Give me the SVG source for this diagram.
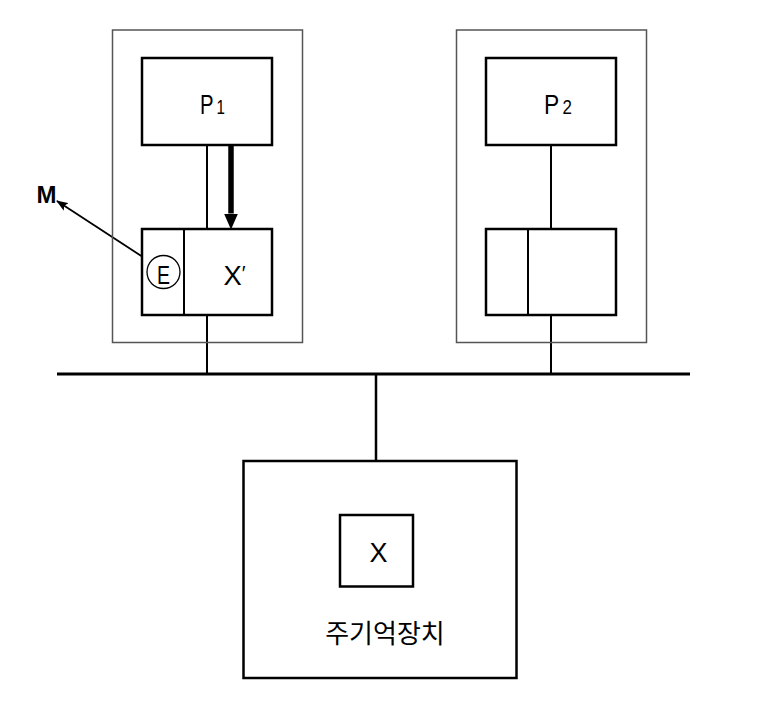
<svg xmlns="http://www.w3.org/2000/svg" width="764" height="714" viewBox="0 0 764 714">
<style>
.outer{fill:none;stroke:#555;stroke-width:1.5}
.box{fill:#fff;stroke:#000;stroke-width:2.5}
.ln{stroke:#000;stroke-width:2;fill:none}
.t{font-family:"Liberation Sans",Arial,sans-serif;fill:#000}
.k{font-family:"Noto Sans CJK KR","Liberation Sans",sans-serif;fill:#000}
</style>
<defs>
<marker id="ah" markerWidth="12" markerHeight="10" refX="11" refY="5" orient="auto" markerUnits="userSpaceOnUse" viewBox="0 0 12 10">
<path d="M0,0.5 L12,5 L0,9.5 L2.5,5 Z" fill="#000"/>
</marker>
<marker id="ahb" markerWidth="16" markerHeight="14" refX="0" refY="7" orient="auto" markerUnits="userSpaceOnUse" viewBox="0 0 16 14">
<path d="M0,0 L16,7 L0,14 Z" fill="#000"/>
</marker>
</defs>
<rect width="764" height="714" fill="#fff"/>
<g id="connectors">
<line class="ln" x1="57" y1="374" x2="690" y2="374" style="stroke-width:3"/>
<line class="ln" x1="207" y1="145" x2="207" y2="229"/>
<line class="ln" x1="207" y1="315" x2="207" y2="374"/>
<line class="ln" x1="551" y1="145" x2="551" y2="229"/>
<line class="ln" x1="551" y1="315" x2="551" y2="374"/>
<line class="ln" x1="376" y1="374" x2="376" y2="461" style="stroke-width:2.5"/>
<line class="ln" x1="231" y1="145" x2="231" y2="213.5" style="stroke-width:5.5" marker-end="url(#ahb)"/>
<line class="ln" x1="149" y1="261" x2="57" y2="201" style="stroke-width:1.8" marker-end="url(#ah)"/>
</g>
<g id="node-p1-unit">
<rect class="outer" x="112.5" y="30" width="190" height="312.5"/>
</g>
<g id="node-p1">
<rect class="box" x="142" y="58" width="130" height="87"/>
<text class="t" x="200" y="114" font-size="27" textLength="25" lengthAdjust="spacingAndGlyphs">P<tspan font-size="20" dx="4">1</tspan></text>
</g>
<g id="node-cache1">
<rect class="box" x="142" y="229" width="130" height="86"/>
<line class="ln" x1="184" y1="229" x2="184" y2="315"/>
<text class="t" x="223.5" y="285" font-size="27" textLength="22" lengthAdjust="spacingAndGlyphs">X<tspan font-size="20" dy="-5">′</tspan></text>
</g>
<g id="node-e">
<circle cx="163.5" cy="272" r="16.5" fill="#fff" stroke="#000" style="stroke-width:1.3"/>
<text class="t" x="157" y="284" font-size="26" textLength="13" lengthAdjust="spacingAndGlyphs">E</text>
</g>
<g id="node-m">
<text class="t" x="36.5" y="203" font-size="24" font-weight="bold" textLength="20" lengthAdjust="spacingAndGlyphs">M</text>
</g>
<g id="node-p2-unit">
<rect class="outer" x="456.5" y="30" width="190" height="312.5"/>
</g>
<g id="node-p2">
<rect class="box" x="486" y="58" width="130" height="87"/>
<text class="t" x="544" y="114" font-size="27" textLength="28" lengthAdjust="spacingAndGlyphs">P<tspan font-size="20" dx="4">2</tspan></text>
</g>
<g id="node-cache2">
<rect class="box" x="486" y="229" width="130" height="86"/>
<line class="ln" x1="528" y1="229" x2="528" y2="315"/>
</g>
<g id="node-memory">
<rect class="box" x="243.5" y="461" width="273" height="217"/>
<rect class="box" x="340" y="515" width="73" height="71.5"/>
<text class="t" x="378.5" y="562" font-size="27" text-anchor="middle">X</text>
<text class="k" x="385" y="643" font-size="26" text-anchor="middle">주기억장치</text>
</g>
</svg>
